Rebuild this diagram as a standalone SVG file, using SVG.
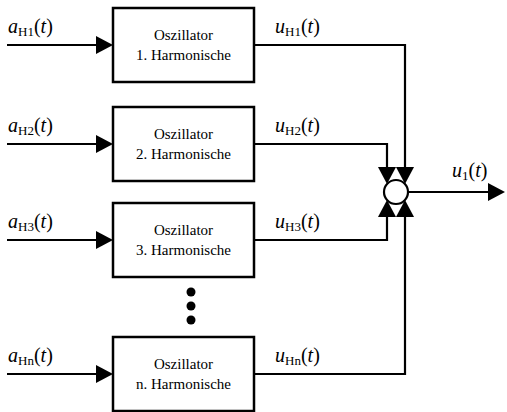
<svg xmlns="http://www.w3.org/2000/svg" width="507" height="412" viewBox="0 0 507 412">
<style>
.box{fill:#fff;stroke:#000;stroke-width:2.5}
.ln{fill:none;stroke:#000;stroke-width:2.2}
.bt{font-family:"Liberation Serif","Times New Roman",serif;font-size:15px;text-anchor:middle;fill:#000}
.lb{font-family:"Liberation Serif","Times New Roman",serif;font-size:20px;fill:#000}
.it{font-style:italic}
.sub{font-size:13px}
</style>
<defs>
<marker id="ah" markerUnits="userSpaceOnUse" markerWidth="17" markerHeight="18" refX="13" refY="9" orient="auto">
<path d="M0,0 L17,9 L0,18 Z" fill="#000"/>
</marker>
</defs>
<g id="connectors">
<line class="ln" x1="7" y1="45" x2="109" y2="45" marker-end="url(#ah)"/>
<line class="ln" x1="7" y1="144" x2="109" y2="144" marker-end="url(#ah)"/>
<line class="ln" x1="7" y1="240" x2="109" y2="240" marker-end="url(#ah)"/>
<line class="ln" x1="7" y1="374" x2="109" y2="374" marker-end="url(#ah)"/>
<polyline class="ln" points="254,45 405,45 405,180" marker-end="url(#ah)"/>
<polyline class="ln" points="254,144 387,144 387,180" marker-end="url(#ah)"/>
<polyline class="ln" points="254,240 387,240 387,204" marker-end="url(#ah)"/>
<polyline class="ln" points="254,374 405,374 405,204" marker-end="url(#ah)"/>
<line class="ln" x1="408" y1="192" x2="501" y2="192" marker-end="url(#ah)"/>
</g>
<g id="osc1">
<rect class="box" x="113" y="8" width="141" height="74"/>
<text class="bt" x="183.5" y="40">Oszillator</text>
<text class="bt" x="183.5" y="60">1. Harmonische</text>
</g>
<g id="osc2">
<rect class="box" x="113" y="107" width="141" height="74"/>
<text class="bt" x="183.5" y="139">Oszillator</text>
<text class="bt" x="183.5" y="159">2. Harmonische</text>
</g>
<g id="osc3">
<rect class="box" x="113" y="203" width="141" height="74"/>
<text class="bt" x="183.5" y="235">Oszillator</text>
<text class="bt" x="183.5" y="255">3. Harmonische</text>
</g>
<g id="oscn">
<rect class="box" x="113" y="337" width="141" height="74"/>
<text class="bt" x="183.5" y="369">Oszillator</text>
<text class="bt" x="183.5" y="389">n. Harmonische</text>
</g>
<g id="sum">
<circle cx="396" cy="192" r="12" fill="#fff" stroke="#000" stroke-width="2.2"/>
</g>
<g id="dots">
<circle cx="191" cy="292" r="4.5" fill="#000"/>
<circle cx="191" cy="306" r="4.5" fill="#000"/>
<circle cx="191" cy="320" r="4.5" fill="#000"/>
</g>
<g id="labels">
<text class="lb" x="8" y="33"><tspan class="it">a</tspan><tspan class="sub" dy="3">H1</tspan><tspan dy="-3">(</tspan><tspan class="it">t</tspan>)</text>
<text class="lb" x="8" y="132"><tspan class="it">a</tspan><tspan class="sub" dy="3">H2</tspan><tspan dy="-3">(</tspan><tspan class="it">t</tspan>)</text>
<text class="lb" x="8" y="228"><tspan class="it">a</tspan><tspan class="sub" dy="3">H3</tspan><tspan dy="-3">(</tspan><tspan class="it">t</tspan>)</text>
<text class="lb" x="8" y="362"><tspan class="it">a</tspan><tspan class="sub" dy="3">Hn</tspan><tspan dy="-3">(</tspan><tspan class="it">t</tspan>)</text>
<text class="lb" x="275" y="33"><tspan class="it">u</tspan><tspan class="sub" dy="3">H1</tspan><tspan dy="-3">(</tspan><tspan class="it">t</tspan>)</text>
<text class="lb" x="275" y="132"><tspan class="it">u</tspan><tspan class="sub" dy="3">H2</tspan><tspan dy="-3">(</tspan><tspan class="it">t</tspan>)</text>
<text class="lb" x="275" y="228"><tspan class="it">u</tspan><tspan class="sub" dy="3">H3</tspan><tspan dy="-3">(</tspan><tspan class="it">t</tspan>)</text>
<text class="lb" x="275" y="362"><tspan class="it">u</tspan><tspan class="sub" dy="3">Hn</tspan><tspan dy="-3">(</tspan><tspan class="it">t</tspan>)</text>
<text class="lb" x="452" y="177"><tspan class="it">u</tspan><tspan class="sub" dy="3">1</tspan><tspan dy="-3">(</tspan><tspan class="it">t</tspan>)</text>
</g>
</svg>
